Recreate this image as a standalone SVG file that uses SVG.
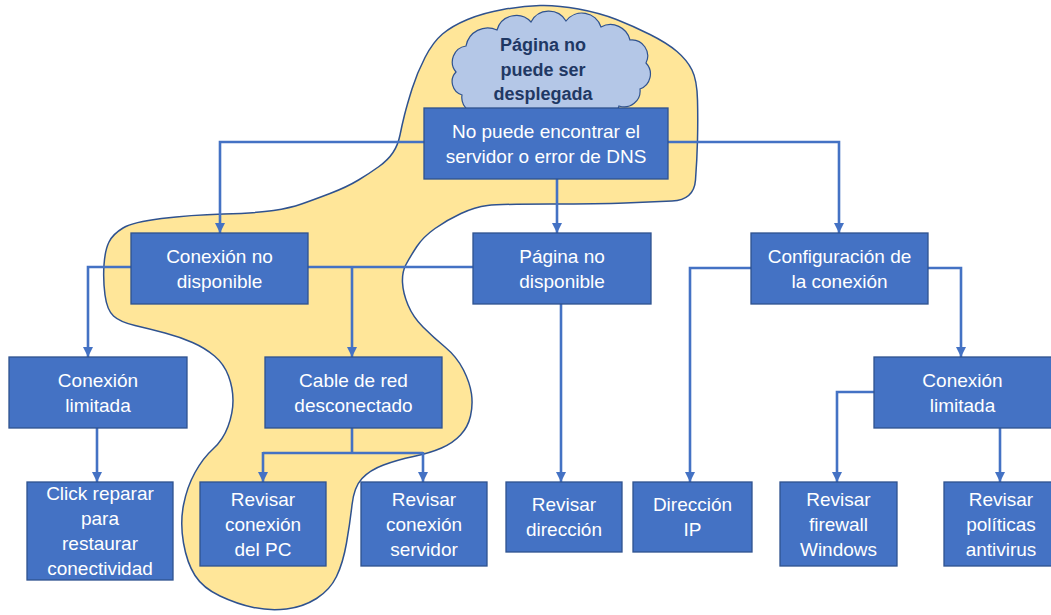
<svg xmlns="http://www.w3.org/2000/svg" width="1051" height="615" viewBox="0 0 1051 615">
  <style>
    .box { fill: #4472C4; stroke: #2F528F; stroke-width: 1.3; }
    .lbl { font-family: "Liberation Sans", Arial, sans-serif; font-size: 19px; fill: #FFFFFF; text-anchor: middle; }
    .cloudlbl { font-family: "Liberation Sans", Arial, sans-serif; font-size: 18px; font-weight: bold; fill: #1F3864; text-anchor: middle; }
    .wire { fill: none; stroke: #4472C4; stroke-width: 2.6; }
    .arrow { marker-end: url(#head); }
  </style>
  <defs>
    <marker id="head" markerUnits="userSpaceOnUse" markerWidth="10" markerHeight="10" refX="10" refY="5" orient="auto">
      <path d="M0,0 L10,5 L0,10 Z" fill="#4472C4"/>
    </marker>
  </defs>

  <rect width="1051" height="615" fill="#FFFFFF"/>

  <!-- highlighted path through the tree -->
  <g id="highlight">
    <path fill="#FFE699" stroke="#2F528F" stroke-width="1.5" stroke-linejoin="round"
      d="M540,5.5 Q557,5 578.5,9 Q600,13 616.5,19.5 Q633,26 650,34.5 Q667,43 677,51.5 Q687,60 692,70 Q697,80 697.5,100 Q698,120 697.5,140 Q697,160 695.5,180 Q694,200 672,201 Q650,202 625,203 Q600,204 550,204 Q500,204 487.5,205.5 Q475,207 461,213.5 Q447,220 435,228.5 Q423,237 416.5,247 Q410,257 406,264.5 Q402,272 402.5,282.5 Q403,293 408,305 Q413,317 423,327 Q433,337 445,347 Q457,357 463.5,370 Q470,383 471.5,394 Q473,405 470.5,416 Q468,427 460.5,435 Q453,443 441.5,448 Q430,453 413.5,456.5 Q397,460 383.5,465 Q370,470 362,478.5 Q354,487 352,505 Q350,523 346.5,543 Q343,563 336.5,576.5 Q330,590 316.5,598.5 Q303,607 286.5,609 Q270,611 253.5,607.5 Q237,604 220,596 Q203,588 195,575.5 Q187,563 183.5,543 Q180,523 183.5,505 Q187,487 195,472.5 Q203,458 213,449 Q223,440 228,426.5 Q233,413 233,400.5 Q233,388 228.5,376 Q224,364 214.5,356 Q205,348 192.5,342.5 Q180,337 165,333 Q150,329 135,325.5 Q120,322 113.5,316 Q107,310 105,295 Q103,280 104,265 Q105,250 109,242 Q113,234 123,228 Q133,222 161.5,218.5 Q190,215 223.5,214 Q257,213 273.5,210.5 Q290,208 301.5,204 Q313,200 330,193.5 Q347,187 358.5,180 Q370,173 379,166.5 Q388,160 393,152.5 Q398,145 400,135 Q402,125 404.5,115 Q407,105 412,89 Q417,73 425,57.5 Q433,42 442.5,34 Q452,26 467.5,19.5 Q483,13 503,9.5 Q523,6 540,5.5 Z"/>
  </g>

  <!-- problem statement cloud -->
  <g id="cloud">
    <path fill="#B4C7E7" stroke="#2F528F" stroke-width="1.2"
      d="M456,72 A16,16 0 0 1 466,46 A22,22 0 0 1 497,30 A20,20 0 0 1 531,22 A20,20 0 0 1 566,21 A20,20 0 0 1 601,27 A20,20 0 0 1 630,40 A16,16 0 0 1 646,63 A16,16 0 0 1 640,89 A16,16 0 0 1 619,106 A18,18 0 0 1 590,116 A20,20 0 0 1 555,119 A20,20 0 0 1 520,117 A18,18 0 0 1 489,109 A16,16 0 0 1 462,95 A14,14 0 0 1 456,72 Z"/>
    <text class="cloudlbl" x="543" y="51">Página no</text>
    <text class="cloudlbl" x="543" y="76">puede ser</text>
    <text class="cloudlbl" x="543" y="100">desplegada</text>
  </g>

  <!-- connectors -->
  <g id="connectors">
    <path class="wire arrow" d="M424,142 H220 V233"/>
    <path class="wire arrow" d="M557,179 V233"/>
    <path class="wire arrow" d="M668,142 H839 V233"/>
    <path class="wire arrow" d="M131,267 H88 V357"/>
    <path class="wire" d="M308,267 H473"/>
    <path class="wire arrow" d="M352,267 V357"/>
    <path class="wire arrow" d="M97,428 V482"/>
    <path class="wire" d="M352,428 V453 M263,453 H423"/>
    <path class="wire arrow" d="M263,452 V482"/>
    <path class="wire arrow" d="M423,452 V482"/>
    <path class="wire arrow" d="M561,304 V482"/>
    <path class="wire arrow" d="M751,268 H690 V482"/>
    <path class="wire arrow" d="M928,268 H961 V357"/>
    <path class="wire arrow" d="M874,392 H837 V482"/>
    <path class="wire arrow" d="M1000,428 V482"/>
  </g>

  <g id="dns">
    <rect class="box" x="424" y="108" width="244" height="71"/>
    <text class="lbl" x="546" y="138">No puede encontrar el</text>
    <text class="lbl" x="546" y="163">servidor o error de DNS</text>
  </g>

  <g id="conexion-no-disponible">
    <rect class="box" x="131" y="233" width="177" height="71"/>
    <text class="lbl" x="219.5" y="263">Conexión no</text>
    <text class="lbl" x="219.5" y="288">disponible</text>
  </g>

  <g id="pagina-no-disponible">
    <rect class="box" x="473" y="233" width="178" height="71"/>
    <text class="lbl" x="562" y="263">Página no</text>
    <text class="lbl" x="562" y="288">disponible</text>
  </g>

  <g id="configuracion">
    <rect class="box" x="751" y="233" width="177" height="71"/>
    <text class="lbl" x="839.5" y="263">Configuración de</text>
    <text class="lbl" x="839.5" y="288">la conexión</text>
  </g>

  <g id="conexion-limitada-1">
    <rect class="box" x="9" y="357" width="178" height="71"/>
    <text class="lbl" x="98" y="387">Conexión</text>
    <text class="lbl" x="98" y="412">limitada</text>
  </g>

  <g id="cable-red">
    <rect class="box" x="265" y="357" width="177" height="71"/>
    <text class="lbl" x="353.5" y="387">Cable de red</text>
    <text class="lbl" x="353.5" y="412">desconectado</text>
  </g>

  <g id="conexion-limitada-2">
    <rect class="box" x="874" y="357" width="178" height="71"/>
    <text class="lbl" x="962.5" y="387">Conexión</text>
    <text class="lbl" x="962.5" y="412">limitada</text>
  </g>

  <g id="click-reparar">
    <rect class="box" x="27" y="482" width="146" height="98"/>
    <text class="lbl" x="100" y="500">Click reparar</text>
    <text class="lbl" x="100" y="525">para</text>
    <text class="lbl" x="100" y="550">restaurar</text>
    <text class="lbl" x="100" y="575">conectividad</text>
  </g>

  <g id="revisar-pc">
    <rect class="box" x="200" y="482" width="126" height="84"/>
    <text class="lbl" x="263" y="506">Revisar</text>
    <text class="lbl" x="263" y="531">conexión</text>
    <text class="lbl" x="263" y="556">del PC</text>
  </g>

  <g id="revisar-servidor">
    <rect class="box" x="361" y="482" width="126" height="84"/>
    <text class="lbl" x="424" y="506">Revisar</text>
    <text class="lbl" x="424" y="531">conexión</text>
    <text class="lbl" x="424" y="556">servidor</text>
  </g>

  <g id="revisar-direccion">
    <rect class="box" x="506" y="482" width="116" height="70"/>
    <text class="lbl" x="564" y="511">Revisar</text>
    <text class="lbl" x="564" y="536">dirección</text>
  </g>

  <g id="direccion-ip">
    <rect class="box" x="633" y="482" width="119" height="70"/>
    <text class="lbl" x="692.5" y="511">Dirección</text>
    <text class="lbl" x="692.5" y="536">IP</text>
  </g>

  <g id="revisar-firewall">
    <rect class="box" x="780" y="482" width="117" height="84"/>
    <text class="lbl" x="838.5" y="506">Revisar</text>
    <text class="lbl" x="838.5" y="531">firewall</text>
    <text class="lbl" x="838.5" y="556">Windows</text>
  </g>

  <g id="revisar-antivirus">
    <rect class="box" x="944" y="482" width="114" height="84"/>
    <text class="lbl" x="1001" y="506">Revisar</text>
    <text class="lbl" x="1001" y="531">políticas</text>
    <text class="lbl" x="1001" y="556">antivirus</text>
  </g>
</svg>
